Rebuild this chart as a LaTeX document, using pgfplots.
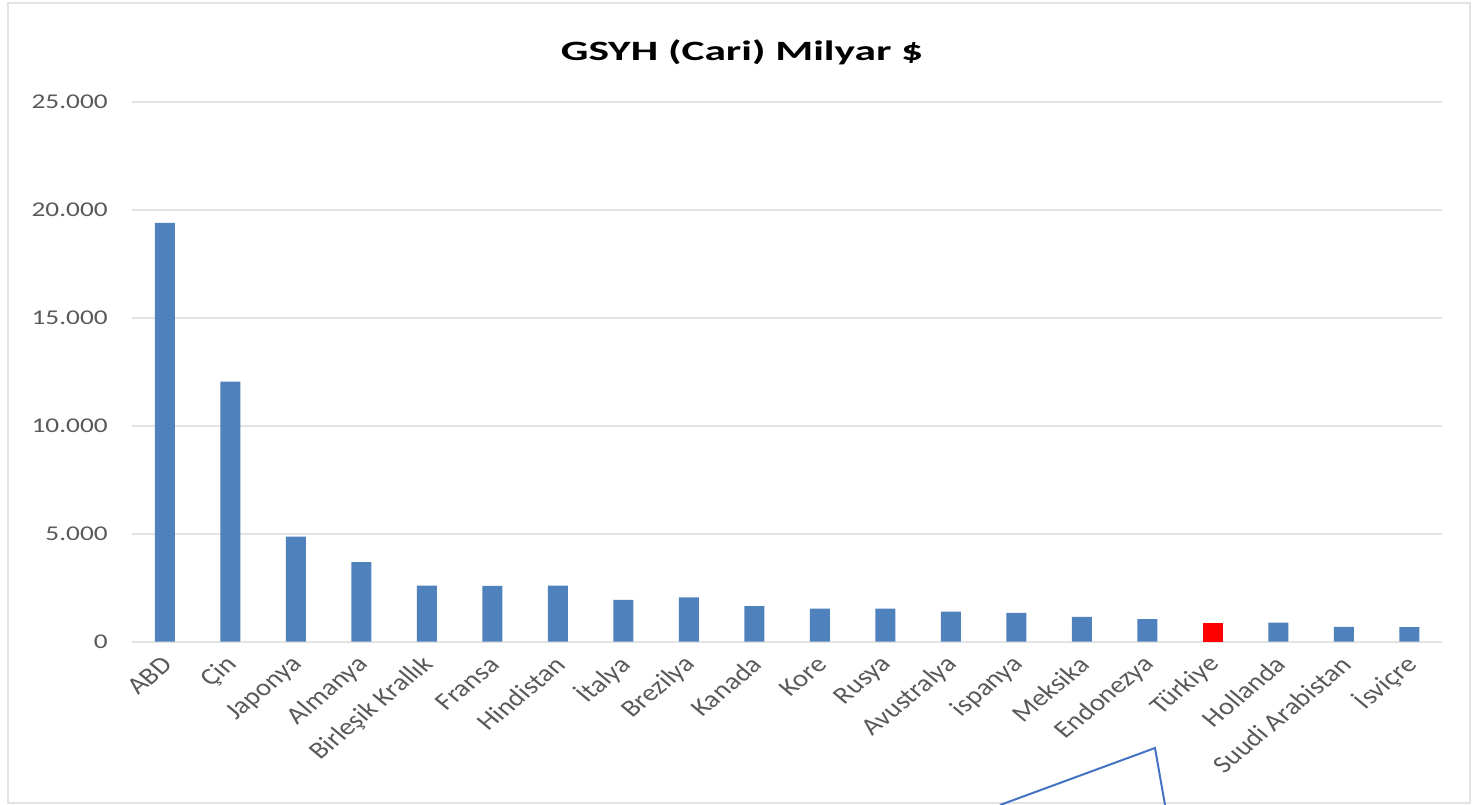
\documentclass[border=0pt]{standalone}
\usepackage{pgfplots}
\pgfplotsset{compat=1.18}
\usepackage{fontspec}
\setmainfont{Carlito}
\definecolor{barblue}{HTML}{4F81BD}
\definecolor{txtgray}{HTML}{595959}
\definecolor{gridgray}{HTML}{E3E3E3}
\definecolor{callout}{HTML}{4472C4}
\begin{document}
\begin{tikzpicture}
\path[use as bounding box] (0,0) rectangle (737bp,402.5bp);
\draw[color=gridgray, line width=1bp] (4bp,1bp) rectangle (735bp,401bp);
\node[anchor=base, font=\fontsize{14bp}{16bp}\selectfont\bfseries, xscale=1.55] at (371bp,372bp) {GSYH (Cari) Milyar \$};
\begin{axis}[
  at={(66.1bp,81.65bp)}, anchor=south west,
  scale only axis, width=655bp, height=270bp,
  xmin=-0.5, xmax=19.5, ymin=0, ymax=25000,
  axis line style={draw=none},
  scaled y ticks=false,
  ytick={0,5000,10000,15000,20000,25000},
  yticklabels={\mbox{0},\mbox{5.000},\mbox{10.000},\mbox{15.000},\mbox{20.000},\mbox{25.000}},
  xtick={0,...,19},
  xticklabels={ABD,Çin,Japonya,Almanya,Birleşik Krallık,Fransa,Hindistan,İtalya,Brezilya,Kanada,Kore,Rusya,Avustralya,ispanya,Meksika,Endonezya,Türkiye,Hollanda,Suudi Arabistan,İsviçre},
  major tick length=0pt,
  ymajorgrids, major grid style={color=gridgray, line width=1bp},
  yticklabel style={font=\fontsize{10.5bp}{12bp}\selectfont, color=txtgray, anchor=east, inner sep=0pt, xshift=-12bp, xscale=1.3},
  xticklabel style={font=\fontsize{12bp}{14bp}\selectfont, color=txtgray, xshift=1.25bp, yshift=-9.5bp, xscale=1.2, rotate=45, anchor=east, inner sep=0pt},
  /pgf/number format/assume math mode=true,
  ybar, bar width=10bp, bar shift=0pt,
  clip=false,
]
\addplot[fill=barblue, draw=none] coordinates {
(0,19390) (1,12040) (2,4860) (3,3680) (4,2600) (5,2590) (6,2600) (7,1935) (8,2055) (9,1650)
(10,1530) (11,1530) (12,1390) (13,1330) (14,1150) (15,1040) (17,880) (18,690) (19,680)};
\addplot[fill=red, draw=none] coordinates {(16,870)};
\end{axis}
\draw[color=callout, line width=1bp] (500bp,0bp) -- (577.5bp,28.5bp) -- (582.5bp,0bp);
\end{tikzpicture}
\end{document}
